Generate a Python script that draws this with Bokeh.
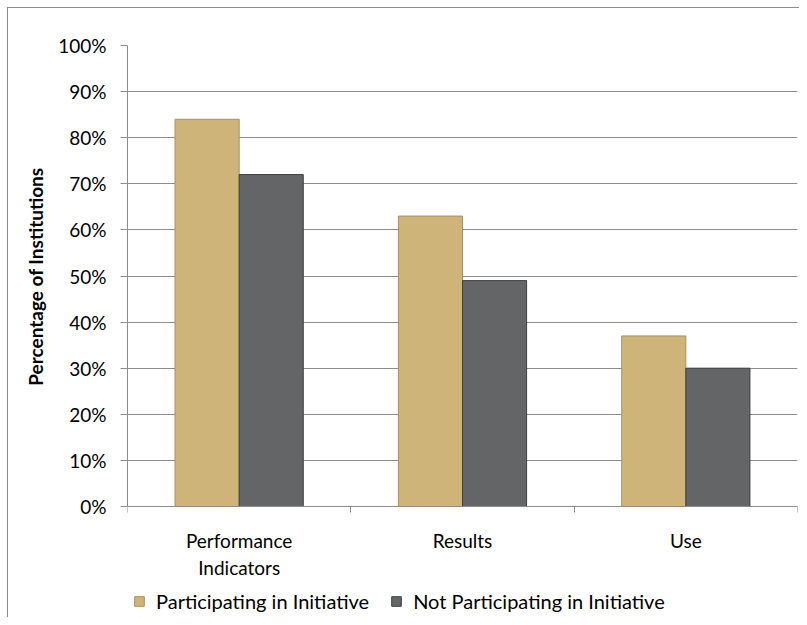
import numpy as np
from bokeh.plotting import figure
from bokeh.models import ColumnDataSource, FixedTicker, NumeralTickFormatter, Range1d, Legend, LegendItem, Title
from bokeh.transform import dodge
from bokeh.embed import file_html
from bokeh.resources import INLINE

categories = ["Performance\nIndicators", "Results", "Use"]
participating = [0.84, 0.63, 0.37]
not_participating = [0.72, 0.49, 0.30]
y_ticks = [0.0, 0.1, 0.2, 0.3, 0.4, 0.5, 0.6, 0.7, 0.8, 0.9, 1.0]
series_names = ["Participating in Initiative", "Not Participating in Initiative"]
y_title = "Percentage of Institutions"

FONT = "Lato"
GRID = "#8c8c8c"

n = len(categories)
centers = np.arange(n) + 0.5
src = ColumnDataSource(dict(x=centers, part=participating, notpart=not_participating))

# frame extends below the value axis so that category labels and legend sit inside it
y_start = -111 / 461

p = figure(width=799, height=617, output_backend="svg", toolbar_location=None,
           x_range=Range1d(0, n), y_range=Range1d(y_start, 1),
           min_border_left=127, min_border_right=2, min_border_top=45, min_border_bottom=0)
p.styles = {"box-shadow": "inset 7px 7px 0 0 white, inset 8px 8px 0 0 #8c8c8c"}
p.border_fill_color = None
p.outline_line_color = None
p.background_fill_color = "white"

bw = 0.287
r1 = p.vbar(x=dodge("x", -bw / 2, range=p.x_range), top="part", width=bw, source=src,
            fill_color="#CFB47A", line_color="#A8905C", line_width=1)
r2 = p.vbar(x=dodge("x", bw / 2, range=p.x_range), top="notpart", width=bw, source=src,
            fill_color="#646567", line_color="#3E3F41", line_width=1)

# y axis
p.yaxis.ticker = FixedTicker(ticks=y_ticks)
p.yaxis.bounds = (0, 1)
p.yaxis.formatter = NumeralTickFormatter(format="0%")
p.yaxis.axis_line_color = GRID
p.yaxis.major_tick_line_color = GRID
p.yaxis.major_tick_out = 7
p.yaxis.major_tick_in = 0
p.yaxis.minor_tick_line_color = None
p.yaxis.major_label_text_font = FONT
p.yaxis.major_label_text_font_size = "19px"
p.yaxis.major_label_text_color = "black"
p.yaxis.major_label_standoff = 14

# y axis title, centred on the 0-100% span
p.add_layout(Title(text=y_title, align="right", offset=122, vertical_align="bottom",
                   standoff=18, text_font=FONT, text_font_size="19px",
                   text_font_style="bold", text_color="black"), "left")

# x axis (drawn at value 0)
p.xaxis.fixed_location = 0
p.xaxis.ticker = FixedTicker(ticks=list(centers), minor_ticks=list(np.arange(n + 1)))
p.xaxis.major_label_overrides = {float(c): lab for c, lab in zip(centers, categories)}
p.xaxis.major_tick_line_color = None
p.xaxis.major_tick_out = 6
p.xaxis.minor_tick_line_color = GRID
p.xaxis.minor_tick_out = 6
p.xaxis.minor_tick_in = 0
p.xaxis.axis_line_color = GRID
p.xaxis.major_label_text_font = FONT
p.xaxis.major_label_text_font_size = "19px"
p.xaxis.major_label_text_color = "black"
p.xaxis.major_label_standoff = 16

p.xgrid.grid_line_color = None
p.ygrid.ticker = FixedTicker(ticks=y_ticks[1:])
p.ygrid.grid_line_color = GRID
p.ygrid.grid_line_width = 1

legend = Legend(items=[LegendItem(label=series_names[0], renderers=[r1]),
                       LegendItem(label=series_names[1], renderers=[r2])],
                orientation="horizontal", location=(6, 4),
                border_line_color=None, background_fill_alpha=0,
                label_text_font=FONT, label_text_font_size="20px", label_text_color="black",
                glyph_width=12, glyph_height=12, spacing=21, label_standoff=11,
                margin=0, padding=4)
p.add_layout(legend, "center")

open("out.html", "w").write(file_html(p, INLINE))
